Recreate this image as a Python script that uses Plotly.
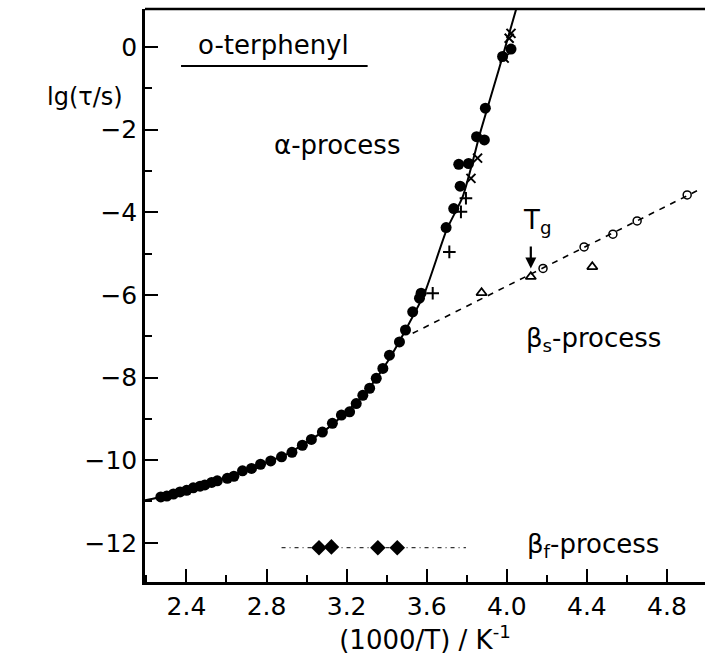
import plotly.graph_objects as go

# ---- data ----
# alpha-process fit curve
curve_x = [2.193, 2.3, 2.4, 2.5, 2.6, 2.7, 2.8, 2.9, 3.0, 3.1, 3.2, 3.3, 3.4, 3.5,
           3.589, 3.7, 3.78, 3.871, 3.96, 4.046]
curve_y = [-10.97, -10.86, -10.73, -10.58, -10.43, -10.24, -10.05, -9.86, -9.57, -9.25,
           -8.83, -8.33, -7.65, -6.80, -5.96, -4.42, -3.62, -2.01, -0.55, 0.90]

# alpha-process filled circles
alpha_dots_x = [2.272, 2.302, 2.335, 2.368, 2.401, 2.434, 2.468, 2.492, 2.526, 2.554,
                2.604, 2.637, 2.680, 2.725, 2.770, 2.821, 2.875, 2.927, 2.979, 3.024,
                3.079, 3.129, 3.174, 3.215, 3.248, 3.281, 3.315, 3.348, 3.381, 3.414,
                3.464, 3.494, 3.530, 3.564, 3.572, 3.697, 3.735, 3.767, 3.760, 3.809,
                3.849, 3.888, 3.893, 3.979, 4.021]
alpha_dots_y = [-10.89, -10.87, -10.82, -10.77, -10.73, -10.67, -10.63, -10.60, -10.54, -10.50,
                -10.44, -10.39, -10.26, -10.20, -10.10, -10.02, -9.92, -9.81, -9.64, -9.50,
                -9.32, -9.11, -8.91, -8.83, -8.63, -8.43, -8.26, -8.02, -7.78, -7.46,
                -7.14, -6.85, -6.41, -6.08, -5.96, -4.37, -3.91, -3.37, -2.84, -2.82,
                -2.17, -2.25, -1.48, -0.23, -0.05]

# alpha-process crosses (x-shaped) and plus signs
alpha_x_x = [4.021, 4.012, 3.987, 3.854, 3.821]
alpha_x_y = [0.33, 0.21, -0.27, -2.69, -3.18]
alpha_plus_x = [3.796, 3.771, 3.713, 3.630]
alpha_plus_y = [-3.66, -3.99, -4.96, -5.96]

# beta_s-process
beta_s_line_x = [3.53, 4.975]
beta_s_line_y = [-6.93, -3.42]
beta_s_circ_x = [4.181, 4.386, 4.530, 4.651, 4.901]
beta_s_circ_y = [-5.36, -4.84, -4.53, -4.21, -3.58]
beta_s_tri_x = [3.874, 4.120, 4.427]
beta_s_tri_y = [-5.95, -5.56, -5.32]

# beta_f-process
beta_f_line_x = [2.875, 3.796]
beta_f_line_y = [-12.12, -12.12]
beta_f_x = [3.062, 3.124, 3.356, 3.453]
beta_f_y = [-12.12, -12.10, -12.12, -12.12]

# Tg marker
tg_x = 4.120
tg_arrow_top = -4.79
tg_arrow_tip = -5.36

x_ticks = [2.4, 2.8, 3.2, 3.6, 4.0, 4.4, 4.8]
y_ticks = [-12, -10, -8, -6, -4, -2, 0]

FONT = "DejaVu Sans"
BLACK = "black"

fig = go.Figure()

fig.add_trace(go.Scatter(x=curve_x, y=curve_y, mode="lines",
                         line=dict(color=BLACK, width=2, shape="spline", smoothing=0.6),
                         hoverinfo="skip"))
fig.add_trace(go.Scatter(x=beta_s_line_x, y=beta_s_line_y, mode="lines",
                         line=dict(color=BLACK, width=1.6, dash="6px,6px")))
fig.add_trace(go.Scatter(x=beta_f_line_x, y=beta_f_line_y, mode="lines",
                         line=dict(color=BLACK, width=1, dash="4px,4px,1px,4px")))
fig.add_trace(go.Scatter(x=alpha_dots_x, y=alpha_dots_y, mode="markers",
                         marker=dict(symbol="circle", size=11, color=BLACK)))
fig.add_trace(go.Scatter(x=alpha_x_x, y=alpha_x_y, mode="markers",
                         marker=dict(symbol="x-thin", size=9, color=BLACK,
                                     line=dict(color=BLACK, width=2))))
fig.add_trace(go.Scatter(x=alpha_plus_x, y=alpha_plus_y, mode="markers",
                         marker=dict(symbol="cross-thin", size=9, color=BLACK,
                                     line=dict(color=BLACK, width=2))))
fig.add_trace(go.Scatter(x=beta_s_circ_x, y=beta_s_circ_y, mode="markers",
                         marker=dict(symbol="circle-open", size=8, color=BLACK,
                                     line=dict(color=BLACK, width=1.5))))
fig.add_trace(go.Scatter(x=beta_s_tri_x, y=beta_s_tri_y, mode="markers",
                         marker=dict(symbol="triangle-up-open", size=9, color=BLACK,
                                     line=dict(color=BLACK, width=1.8))))
fig.add_trace(go.Scatter(x=beta_f_x, y=beta_f_y, mode="markers",
                         marker=dict(symbol="diamond", size=12, color=BLACK)))

tf = dict(family=FONT, size=26, color=BLACK)
ann = [
    dict(x=2.834, y=0.05, text="o-terphenyl", showarrow=False, font=tf),
    dict(x=3.153, y=-2.37, text="α-process", showarrow=False, font=tf),
    dict(x=4.431, y=-7.09, text="β<sub>s</sub>-process", showarrow=False, font=tf),
    dict(x=4.431, y=-12.06, text="β<sub>f</sub>-process", showarrow=False, font=tf),
    dict(x=4.153, y=-4.23, text="T<sub>g</sub>", showarrow=False, font=tf),
    dict(x=tg_x, y=tg_arrow_tip, ax=tg_x, ay=tg_arrow_top, axref="x", ayref="y",
         xref="x", yref="y", text="", showarrow=True, arrowhead=2, arrowsize=1,
         arrowwidth=2.2, arrowcolor=BLACK),
    dict(x=-0.035, y=-1.2, xref="paper", yref="y", xanchor="right",
         text="lg(τ/s)", showarrow=False, font=dict(family=FONT, size=24, color=BLACK)),
]

shapes = [
    # underline of the sample name
    dict(type="line", x0=2.373, x1=3.305, y0=-0.46, y1=-0.46, xref="x", yref="y",
         line=dict(color=BLACK, width=2)),
    # top frame line
    dict(type="line", x0=0, x1=1, y0=1, y1=1, xref="paper", yref="paper",
         line=dict(color=BLACK, width=2.5)),
]

fig.update_layout(
    width=705, height=660,
    margin=dict(l=145, r=0, t=9, b=78),
    paper_bgcolor="white", plot_bgcolor="white",
    showlegend=False,
    annotations=ann, shapes=shapes,
    font=dict(family=FONT, color=BLACK),
)
fig.update_xaxes(
    range=[2.193, 4.99], tickvals=x_ticks, ticktext=[f"{v:.1f}" for v in x_ticks],
    ticks="inside", ticklen=13, tickwidth=1.5, tickcolor=BLACK,
    minor=dict(dtick=0.2, tick0=2.2, ticks="inside", ticklen=7, tickwidth=1.5, tickcolor=BLACK),
    showline=True, linecolor=BLACK, linewidth=2.5, showgrid=False, zeroline=False,
    tickfont=dict(family=FONT, size=25, color=BLACK),
    title=dict(text="(1000/T) / K<sup>-1</sup>", font=dict(family=FONT, size=26, color=BLACK),
               standoff=6),
)
fig.update_yaxes(
    range=[-12.95, 0.92], tickvals=y_ticks, ticktext=[("−" + str(-v)) if v < 0 else str(v) for v in y_ticks],
    ticks="inside", ticklen=13, tickwidth=1.5, tickcolor=BLACK,
    minor=dict(dtick=1, tick0=-13, ticks="inside", ticklen=7, tickwidth=1.5, tickcolor=BLACK),
    showline=True, linecolor=BLACK, linewidth=2.5, showgrid=False, zeroline=False,
    tickfont=dict(family=FONT, size=25, color=BLACK),
)

fig.write_html("out.html")
